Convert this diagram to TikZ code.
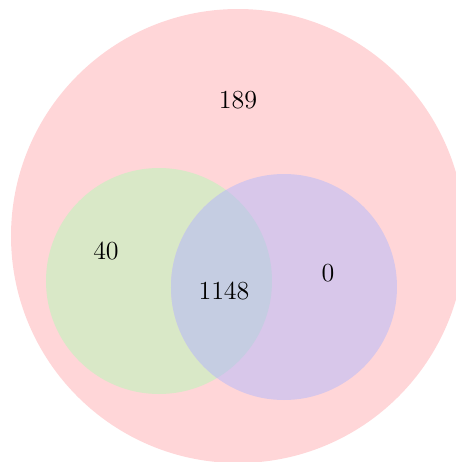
\documentclass[tikz,border=0pt]{standalone}
\usepackage{tikz}
\usetikzlibrary{positioning}
\definecolor{allset}{RGB}{255,214,216}
\definecolor{leftset}{RGB}{217,232,199}
\definecolor{rightset}{RGB}{216,199,234}
\definecolor{bothset}{RGB}{197,205,226}

\begin{document}
\begin{tikzpicture}[x=0.5pt,y=-0.5pt,count/.style={font=\fontsize{13}{16}\selectfont,inner sep=0pt}]
  \clip (0,0) rectangle (456,462);
  \fill[allset] (238,236) circle (227);
  \fill[leftset] (159,281) circle (113);
  \fill[rightset] (284,287) circle (113);
  \begin{scope}
    \clip (159,281) circle (113);
    \fill[bothset] (284,287) circle (113);
  \end{scope}
  \node[count] (outer) at (238,100) {189};
  \node[count] (onlyleft) at (106,251) {40};
  \node[count] (common) at (224,291) {1148};
  \node[count] (onlyright) at (328,273) {0};
\end{tikzpicture}
\end{document}
